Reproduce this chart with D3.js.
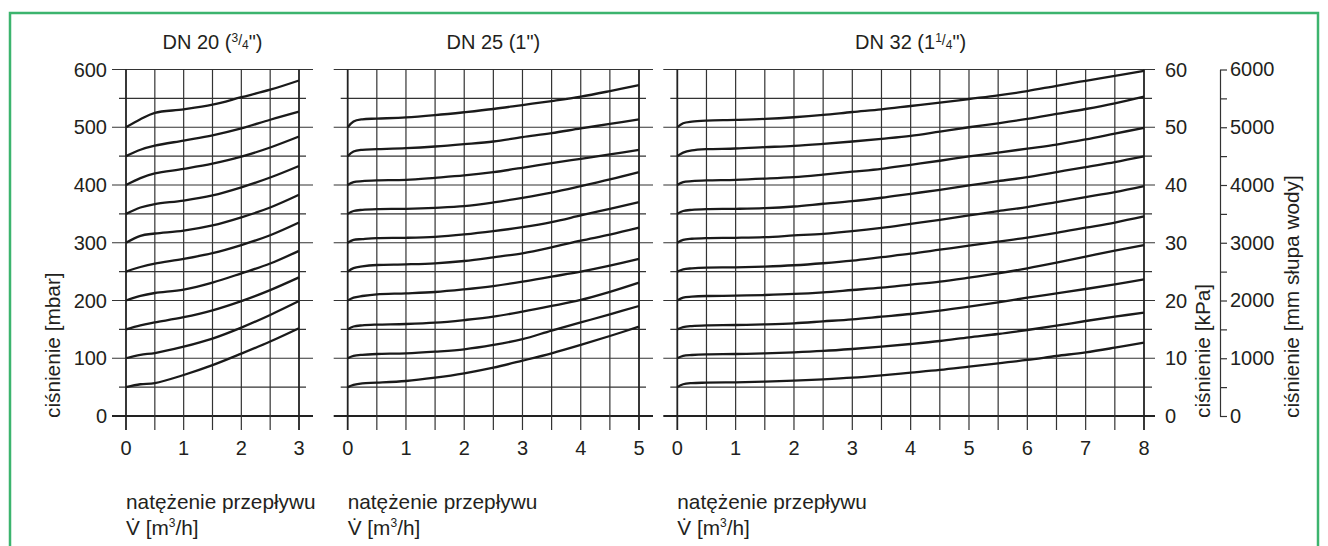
<!DOCTYPE html>
<html><head><meta charset="utf-8">
<script src="https://cdn.jsdelivr.net/npm/d3@7"></script>
<style>
body{margin:0;background:#fff}
svg{display:block}
text{font-family:"Liberation Sans",Arial,Helvetica,sans-serif;fill:#231f20}
</style>
</head><body>
<svg id="c" width="1328" height="546"></svg>
<script>
// ---------- data ----------
const dn20X = [0, 0.25, 0.5, 1, 1.5, 2, 2.5, 3];
const dn20Curves = [
  [50, 55, 57, 71, 88, 108, 129, 152],
  [100, 106, 109, 120, 134, 153, 175, 199],
  [150, 157, 162, 171, 183, 199, 218, 240],
  [200, 208, 213, 219, 231, 247, 264, 286],
  [250, 258, 264, 272, 282, 296, 313, 335],
  [300, 312, 316, 321, 330, 344, 361, 383],
  [350, 361, 367, 373, 382, 396, 413, 433],
  [400, 412, 420, 428, 437, 449, 465, 484],
  [450, 461, 468, 477, 486, 498, 513, 527],
  [500, 514, 525, 531, 539, 552, 565, 581]
];
const dn25X = [0, 0.1, 0.25, 0.5, 1, 1.5, 2, 2.5, 3, 3.5, 4, 4.5, 5];
const dn25Curves = [
  [50, 54, 56.6, 57.7, 60.6, 66.4, 73.9, 83.7, 95.8, 108.5, 123, 138.5, 154.7],
  [100, 104, 106, 107.4, 108.5, 111.4, 115.4, 123, 133, 148, 162, 176, 190.5],
  [150, 155, 157, 158.2, 159.3, 161.6, 166.2, 172, 180.7, 190.5, 201, 215, 231],
  [200, 205, 207.8, 210.7, 212.4, 214.7, 219.3, 225, 232.6, 241.3, 250, 260.3, 272],
  [250, 256, 259, 261.5, 262.6, 264.4, 268.4, 274.7, 281.7, 292, 303.6, 314, 326],
  [300, 305, 306.3, 308, 308.6, 310.3, 314.4, 320.1, 327, 335.7, 347.3, 358.8, 370.3],
  [350, 355, 357, 358.2, 358.8, 360.5, 363.4, 369.8, 377.9, 387, 398, 409.6, 422.3],
  [400, 405, 406.7, 407.9, 409, 412.5, 416.5, 422.3, 429.8, 437.9, 445.4, 452.9, 461],
  [450, 458, 461, 462, 463.8, 466.7, 470.7, 475.3, 482.8, 489.7, 498, 505.7, 513.8],
  [500, 510, 513.8, 515, 517, 521, 526, 531.6, 538.5, 545.4, 553, 562.6, 573]
];
const dn32X = [0, 0.1, 0.25, 0.5, 1, 1.5, 2, 2.5, 3, 3.5, 4, 4.5, 5, 5.5, 6, 6.5, 7, 7.5, 8];
const dn32Curves = [
  [50, 55, 57, 57.7, 58.3, 59.5, 61.2, 63.5, 66.4, 70.4, 75, 79.7, 85.4, 91.2, 97, 103.9, 110.2, 118.3, 127],
  [100, 104, 105.6, 106.8, 107.4, 108.5, 110.2, 112.6, 116, 120, 124.7, 129.9, 136.2, 142, 148.9, 156.4, 164.5, 172, 179],
  [150, 154, 155.8, 157, 157.6, 158.7, 160.5, 163.9, 167.4, 172, 176.6, 182.4, 189.3, 196.8, 204.9, 212.4, 219.9, 228, 236.7],
  [200, 205, 206.6, 207.8, 208.4, 209.5, 211.3, 214.2, 218.2, 222.2, 227.4, 232.6, 239.5, 247, 255.7, 265.5, 275.9, 286.3, 296],
  [250, 254, 255.7, 257, 257.5, 258.8, 261, 264.5, 269, 275, 281, 288, 295, 302, 309, 317, 326, 335, 345.5],
  [300, 305, 306.9, 308, 308.6, 309.7, 312.6, 315.5, 320.1, 325.9, 332.8, 339.8, 347.3, 354.8, 361.7, 370.3, 379, 387.7, 398],
  [350, 355, 357, 358.2, 358.8, 360, 362.8, 367.5, 372, 377.9, 384.8, 391.7, 399.2, 406.7, 413.6, 422.3, 431, 439.6, 449.4],
  [400, 405, 406.7, 408, 409, 411, 413.6, 418, 423, 428, 435, 442, 449.4, 456, 463, 470, 479, 489, 499],
  [450, 456, 459.8, 462, 463.2, 465.5, 467.8, 471.3, 475.3, 479.9, 485, 492.5, 500, 506.9, 514.4, 523, 531.6, 541.4, 552.9],
  [500, 507, 509.8, 511.5, 512.7, 514.4, 517.3, 521.3, 526.4, 531, 536.8, 542.5, 548.9, 555.2, 562.6, 571.8, 580.5, 589, 597.7]
];
const mbarTicks = [0, 100, 200, 300, 400, 500, 600];
const kpaTicks = [0, 10, 20, 30, 40, 50, 60];
const mmTicks = [0, 1000, 2000, 3000, 4000, 5000, 6000];
const xLabel1 = "natężenie przepływu";
const yLabelLeft = "ciśnienie [mbar]";
const yLabelKpa = "ciśnienie [kPa]";
const yLabelMm = "ciśnienie [mm słupa wody]";

// ---------- layout ----------
const svg = d3.select("#c");
const FS = 20;
const FL = 20.8;
svg.append("rect").attr("x", 10).attr("y", 13).attr("width", 1308).attr("height", 600)
  .attr("fill", "none").attr("stroke", "#3cb46e").attr("stroke-width", 2.5);

const y = d3.scaleLinear().domain([0, 600]).range([416, 69.5]);

const panels = [
  {title: ["DN 20 (", {t: "3", s: "sup"}, {t: "/", s: "sl"}, {t: "4", s: "sub"}, "\")"], xs: dn20X, curves: dn20Curves, xmax: 3, r: [126, 299], extR: [14, 7]},
  {title: ["DN 25 (1\")"], xs: dn25X, curves: dn25Curves, xmax: 5, r: [347.7, 639], extR: [14, 7]},
  {title: ["DN 32 (1", {t: "1", s: "sup"}, {t: "/", s: "sl"}, {t: "4", s: "sub"}, "\")"], xs: dn32X, curves: dn32Curves, xmax: 8, r: [677.3, 1144], extR: [11, 8]}
];

const gridColor = "#333";
panels.forEach((p, pi) => {
  const x = d3.scaleLinear().domain([0, p.xmax]).range(p.r);
  const g = svg.append("g");
  // horizontal grid
  d3.range(0, 601, 50).forEach(v => {
    const major = v % 100 === 0;
    g.append("line")
      .attr("x1", x(0) - (major ? 14 : 7)).attr("x2", x(p.xmax) + (major ? p.extR[0] : p.extR[1]))
      .attr("y1", y(v)).attr("y2", y(v))
      .attr("stroke", v === 0 ? "#222" : gridColor).attr("stroke-width", v === 0 ? 1.8 : 1.2);
  });
  // vertical grid
  d3.range(0, p.xmax + 0.001, 0.5).forEach(v => {
    const edge = v === 0 || v === p.xmax;
    g.append("line")
      .attr("x1", x(v)).attr("x2", x(v)).attr("y1", y(600)).attr("y2", 430)
      .attr("stroke", edge ? "#222" : gridColor).attr("stroke-width", edge ? 1.8 : 1.2);
  });
  // x tick labels
  d3.range(0, p.xmax + 1).forEach(v => {
    g.append("text").attr("x", x(v)).attr("y", 455).attr("text-anchor", "middle")
      .attr("font-size", FS).text(v);
  });
  // curves
  const line = d3.line().x((d, i) => x(p.xs[i])).y(d => y(d)).curve(d3.curveCatmullRom.alpha(0.5));
  p.curves.forEach(c => {
    g.append("path").attr("d", line(c)).attr("fill", "none")
      .attr("stroke", "#1a1a1a").attr("stroke-width", 2.3).attr("stroke-linejoin", "round");
  });
  // title
  const t = g.append("text").attr("x", (p.r[0] + p.r[1]) / 2).attr("y", 49)
    .attr("text-anchor", "middle").attr("font-size", FS);
  p.title.forEach(part => {
    if (typeof part === "string") {
      t.append("tspan").attr("font-size", FS).attr("dy", 0).text(part);
    } else if (part.s === "sup") {
      t.append("tspan").attr("font-size", 12).attr("dy", -7).text(part.t);
    } else if (part.s === "sl") {
      t.append("tspan").attr("font-size", 14).attr("dy", 3).text(part.t);
    } else {
      t.append("tspan").attr("font-size", 12).attr("dy", 4).text(part.t);
    }
  });
  // bottom label
  g.append("text").attr("x", x(0)).attr("y", 509).attr("font-size", FL).text(xLabel1);
  const vl = g.append("text").attr("x", x(0)).attr("y", 535).attr("font-size", FL);
  vl.append("tspan").text("V\u0307 [m");
  vl.append("tspan").attr("font-size", 12).attr("dy", -8).text("3");
  vl.append("tspan").attr("font-size", FL).attr("dy", 8).text("/h]");
});

// left tick labels
mbarTicks.forEach(v => {
  svg.append("text").attr("x", 107).attr("y", y(v)).attr("dy", "0.36em")
    .attr("text-anchor", "end").attr("font-size", FS).text(v);
});
// kPa labels
const yk = d3.scaleLinear().domain([0, 60]).range([416, 69.5]);
kpaTicks.forEach(v => {
  svg.append("text").attr("x", 1165).attr("y", yk(v)).attr("dy", "0.36em")
    .attr("font-size", FS).text(v);
});
// mm axis
const ym = d3.scaleLinear().domain([0, 6000]).range([416, 69.5]);
const mmAxis = d3.axisRight(ym).tickValues(d3.range(0, 6001, 500)).tickSize(7).tickSizeOuter(0)
  .tickFormat(d => mmTicks.includes(d) ? d : "");
const ma = svg.append("g").attr("transform", "translate(1220,0)").call(mmAxis);
ma.selectAll("path,line").attr("stroke", "#333").attr("stroke-width", 1.2);
ma.selectAll("text").attr("font-size", FS).attr("font-family", "Liberation Sans, Arial, sans-serif").attr("fill", "#231f20");

// rotated axis titles
[[60, yLabelLeft], [1210, yLabelKpa], [1299, yLabelMm]].forEach(([xx, s]) => {
  svg.append("text").attr("transform", `translate(${xx},418) rotate(-90)`)
    .attr("font-size", FL).text(s);
});
</script>
</body></html>
